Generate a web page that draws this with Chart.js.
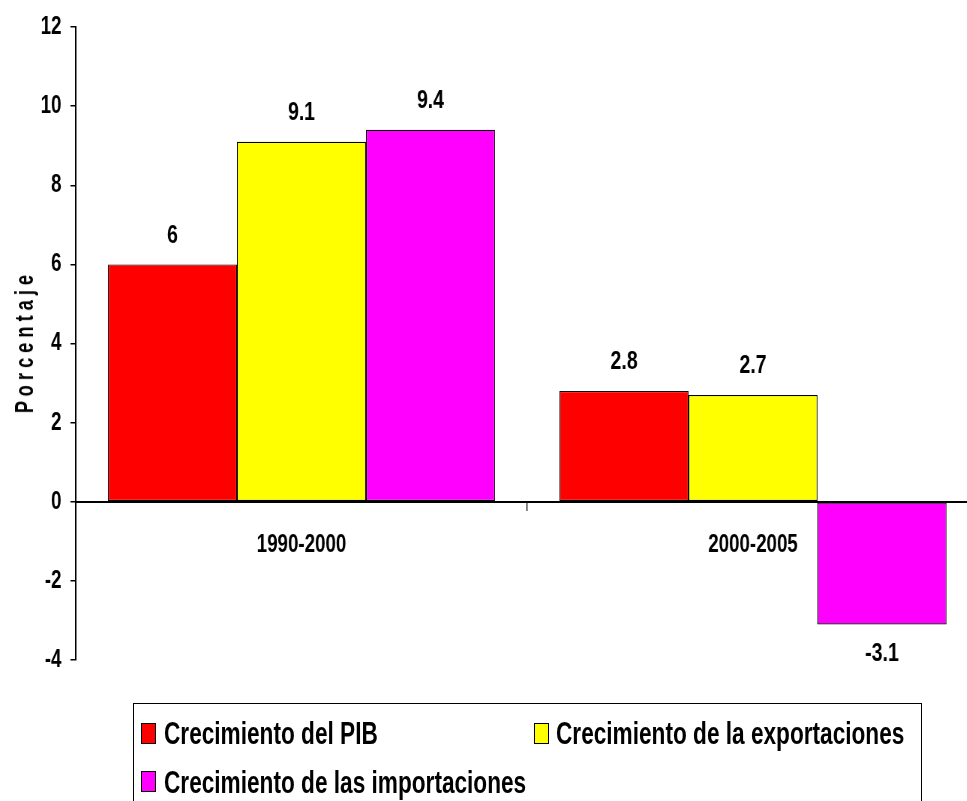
<!DOCTYPE html>
<html>
<head>
<meta charset="utf-8">
<script src="https://cdn.jsdelivr.net/npm/chart.js@4.4.0/dist/chart.umd.min.js"></script>
<style>
    html, body { margin: 0; padding: 0; background: #fff; overflow: hidden; }
    #page { position: relative; width: 967px; height: 801px; overflow: hidden; }
    /* the chart is drawn wide and squeezed, so the bold text looks condensed like the original */
    #wrap { position: absolute; left: 0; top: 0; width: 1333px; height: 801px; transform: scaleX(0.75); transform-origin: 0 0; }
    #yTitle { position: absolute; left: 24px; top: 344px; font: bold 26px 'Liberation Sans', Arial, sans-serif; line-height: 26px; white-space: nowrap; color: #000; transform: translate(-50%, -50%) rotate(-90deg) scaleX(0.7); }
    #legend { position: absolute; left: 133px; top: 703px; width: 789px; height: 120px; border: 1px solid #000; box-sizing: border-box; }
    .legendText { position: absolute; font: bold 31px 'Liberation Sans', Arial, sans-serif; line-height: 31px; white-space: nowrap; color: #000; transform: scaleX(0.73); transform-origin: 0 0; }
    .legendBox { position: absolute; width: 13px; height: 19px; border: 1px solid #000; }
</style>
</head>
<body>
<div id="page">
    <div id="wrap">
        <canvas id="grafica" width="1333" height="801"></canvas>
    </div>
    <div id="yTitle"></div>
    <div id="legend"></div>
</div>
<script>
// chart data
const categories = ['1990-2000', '2000-2005']
const pibValues = [6, 2.8]
const exportValues = [9.1, 2.7]
const importValues = [9.4, -3.1]
const seriesNames = ['Crecimiento del PIB', 'Crecimiento de la exportaciones', 'Crecimiento de las importaciones']
const seriesColors = ['#FF0000', '#FFFF00', '#FF00FF']
const yTicks = [-4, -2, 0, 2, 4, 6, 8, 10, 12]
const yTitle = 'P o r c e n t a j e'

const fontFamily = "'Liberation Sans', Arial, sans-serif"

//labels over and under the bars
const valueLabels = {
    id: 'valueLabels',
    afterDatasetsDraw(chart) {
        const ctx = chart.ctx
        ctx.save()
        ctx.font = 'bold 26px ' + fontFamily
        ctx.fillStyle = '#000'
        ctx.textAlign = 'center'
        ctx.textBaseline = 'middle'
        chart.data.datasets.forEach((ds, i) => {
            chart.getDatasetMeta(i).data.forEach((bar, j) => {
                const v = ds.data[j]
                const y = v >= 0 ? bar.y - 29 : bar.y + 29
                ctx.fillText(String(v), bar.x, y)
            })
        })
        ctx.restore()
    }
}

function buildLegend() {
    const legend = document.querySelector('#legend')
    // [boxLeft, boxTop, textLeft, textTop] inside the legend frame
    const spots = [[7, 19, 30, 14], [400, 19, 422, 14], [7, 67, 30, 63]]
    seriesNames.forEach((name, i) => {
        const box = document.createElement('div')
        box.className = 'legendBox'
        box.style.left = spots[i][0] + 'px'
        box.style.top = spots[i][1] + 'px'
        box.style.background = seriesColors[i]
        const txt = document.createElement('div')
        txt.className = 'legendText'
        txt.style.left = spots[i][2] + 'px'
        txt.style.top = spots[i][3] + 'px'
        txt.textContent = name
        legend.appendChild(box)
        legend.appendChild(txt)
    })
    document.querySelector('#yTitle').textContent = yTitle
}

function renderChart() {
    const grafica = document.querySelector('#grafica')
    const values = [pibValues, exportValues, importValues]
    const data = {
        labels: categories,
        datasets: values.map((serie, i) => ({
            label: seriesNames[i],
            data: serie,
            backgroundColor: seriesColors[i],
            borderColor: '#000',
            borderWidth: 1.2,
            borderSkipped: false,
            categoryPercentage: 0.857,
            barPercentage: 1
        }))
    }
    const config = {
        type: 'bar',
        data: data,
        options: {
            responsive: false,
            animation: false,
            devicePixelRatio: 1,
            layout: { padding: { top: 25, right: 28, bottom: 141, left: 0 } },
            plugins: {
                legend: { display: false },
                tooltip: { enabled: false }
            },
            scales: {
                x: {
                    position: { y: 0 },
                    offset: true,
                    grid: { drawOnChartArea: false, drawTicks: true, tickLength: 8, color: '#000', lineWidth: 1.3, offset: true },
                    border: { display: true, color: '#000', width: 2 },
                    ticks: { color: '#000', padding: 20, maxRotation: 0, font: { family: fontFamily, size: 25, weight: 'bold' } },
                    afterFit: (scale) => { scale.height = 0 }
                },
                y: {
                    min: -4,
                    max: 12,
                    afterBuildTicks: (scale) => { scale.ticks = yTicks.map(v => ({ value: v })) },
                    grid: { drawOnChartArea: false, drawTicks: true, tickLength: 7, color: '#000', lineWidth: 1.5 },
                    border: { display: true, color: '#000', width: 2 },
                    ticks: { color: '#000', padding: 12, font: { family: fontFamily, size: 25, weight: 'bold' } },
                    afterFit: (scale) => { scale.width = 101 }
                }
            }
        },
        plugins: [valueLabels]
    }
    new Chart(grafica, config)
}

document.addEventListener('DOMContentLoaded', (event) => {
    buildLegend()
    renderChart()
})
</script>
</body>
</html>
